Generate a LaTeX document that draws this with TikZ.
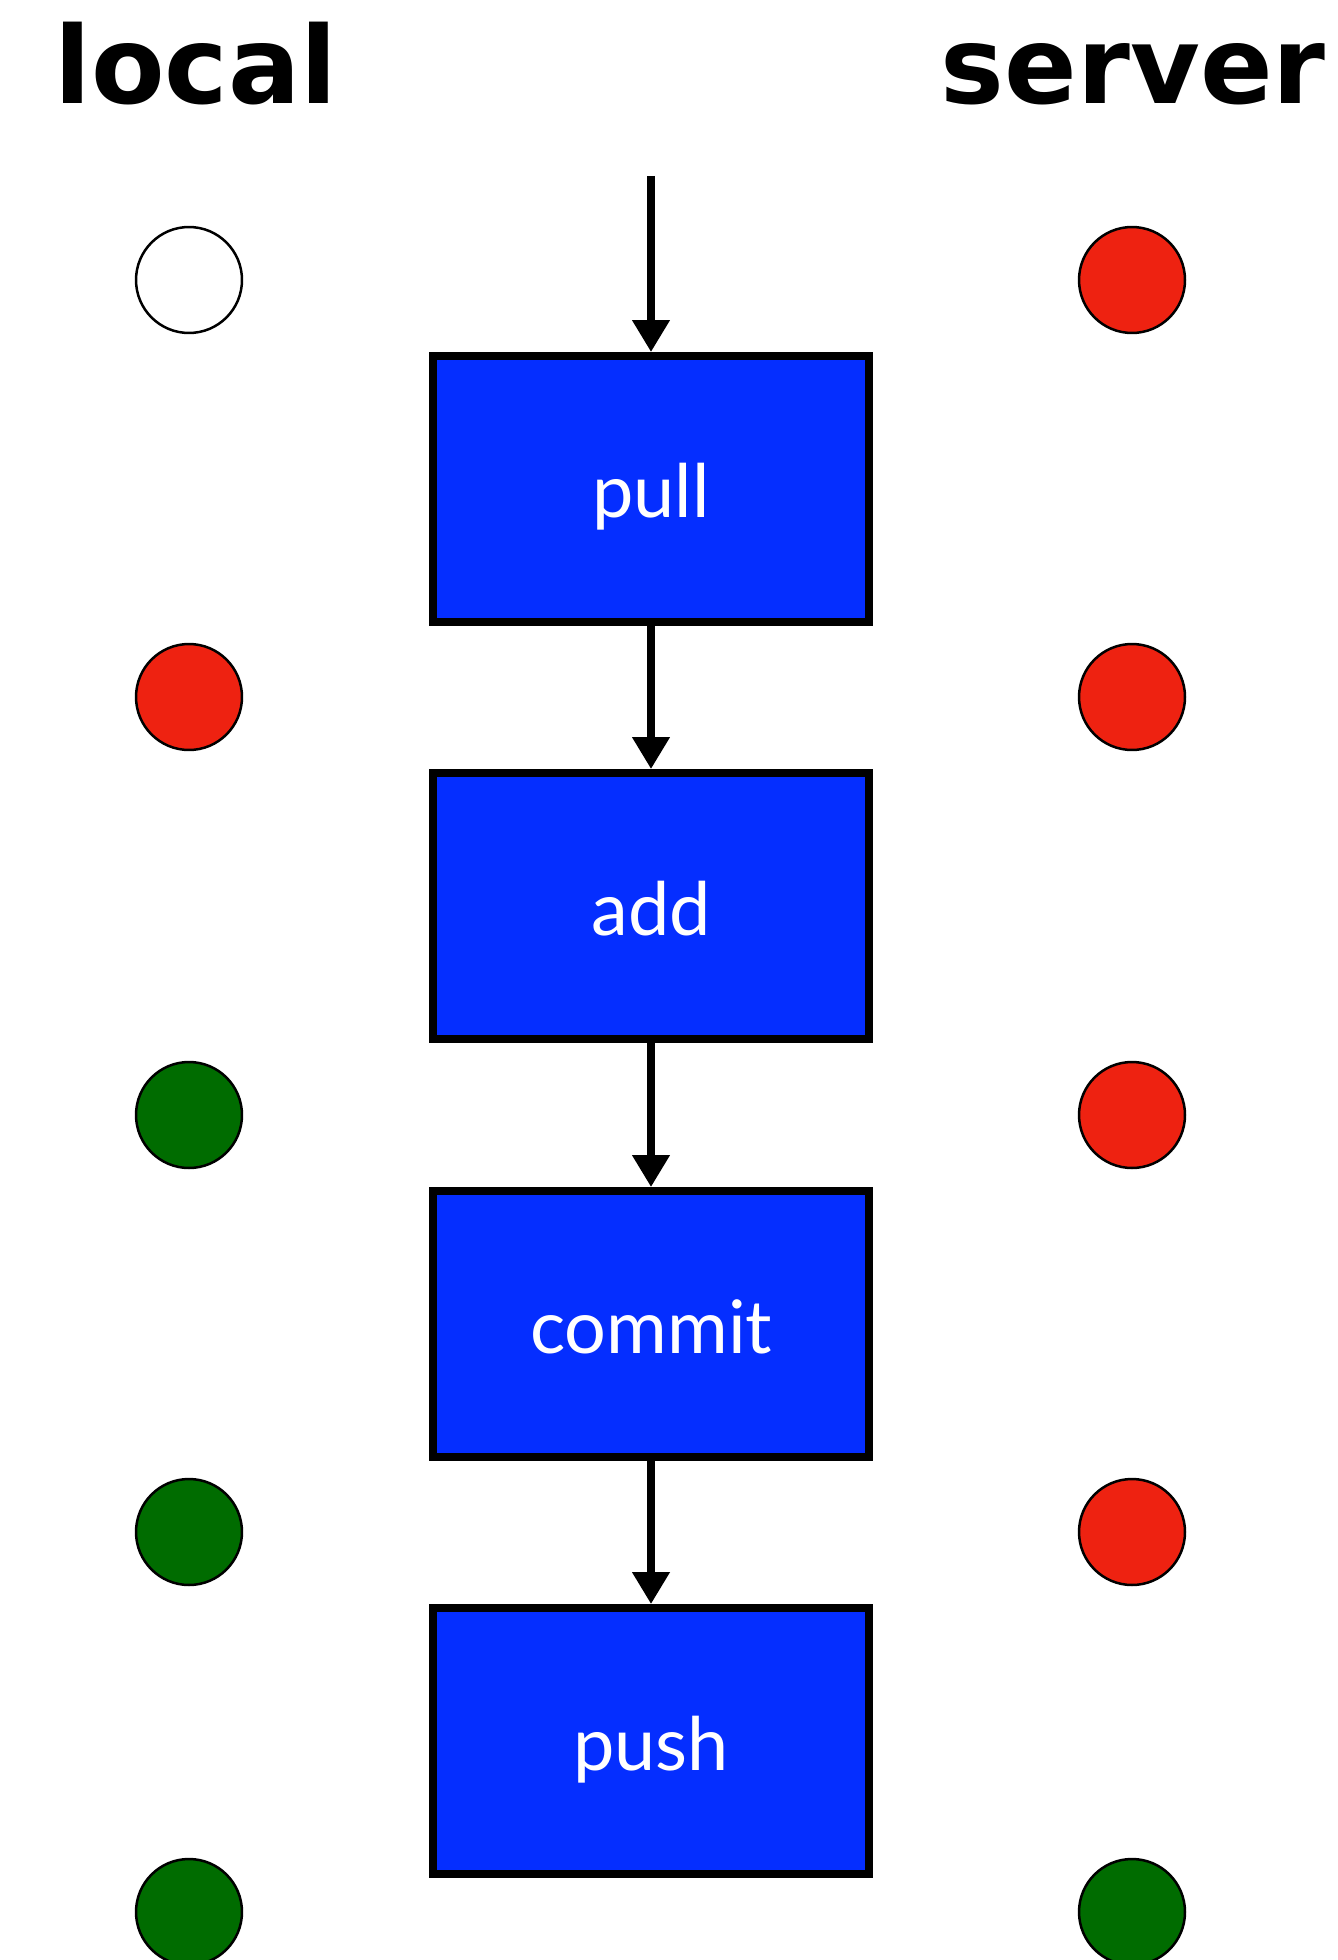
\documentclass[tikz,border=0pt]{standalone}
\definecolor{stepBlue}{RGB}{5,46,255}
\definecolor{stateRed}{RGB}{238,34,17}
\definecolor{stateGreen}{RGB}{0,108,0}
\usepackage{fontspec}
\setmainfont{Liberation Sans}
\newfontfamily\boxfont{Lato}
\newfontfamily\titlefont{DejaVu Sans}
\usepackage{tikz}
\usetikzlibrary{arrows.meta,positioning}

\tikzset{
  stepbox/.style={draw, line width=0.16cm, fill=stepBlue, minimum width=8.72cm,
    minimum height=5.32cm, text height=1.56cm, text depth=0.4cm, text=white,
    font=\boxfont\fontsize{42}{48}\selectfont},
  state/.style={draw, circle, line width=0.05cm, minimum size=2.12cm, inner sep=0pt},
  flow/.style={line width=0.15cm, -{Triangle[length=0.64cm, width=0.72cm]}},
  title/.style={font=\titlefont\bfseries\fontsize{61}{66}\selectfont, inner sep=0pt}
}

\begin{document}
\begin{tikzpicture}[x=0.02cm, y=-0.02cm]
  \useasboundingbox (0,0) rectangle (1338,1960);
  % Column titles
  \node[title, anchor=base west] (localtitle) at (54,104) {local};
  \node[title, anchor=base east] (servertitle) at (1326,104) {server};
  % Workflow steps
  \coordinate (start) at (651,176);
  \node[stepbox] (pull) at (651,489) {pull};
  \node[stepbox] (add) at (651,906) {add};
  \node[stepbox] (commit) at (651,1324) {commit};
  \node[stepbox] (push) at (651,1741) {push};
  % Arrows
  \draw[flow] (start) -- (pull);
  \draw[flow] (pull) -- (add);
  \draw[flow] (add) -- (commit);
  \draw[flow] (commit) -- (push);
  % Local states
  \node[state, fill=white] (local0) at (189,280) {};
  \node[state, fill=stateRed] (local1) at (189,697) {};
  \node[state, fill=stateGreen] (local2) at (189,1115) {};
  \node[state, fill=stateGreen] (local3) at (189,1532) {};
  \node[state, fill=stateGreen] (local4) at (189,1912) {};
  % Server states
  \node[state, fill=stateRed] (server0) at (1132,280) {};
  \node[state, fill=stateRed] (server1) at (1132,697) {};
  \node[state, fill=stateRed] (server2) at (1132,1115) {};
  \node[state, fill=stateRed] (server3) at (1132,1532) {};
  \node[state, fill=stateGreen] (server4) at (1132,1912) {};
\end{tikzpicture}
\end{document}
